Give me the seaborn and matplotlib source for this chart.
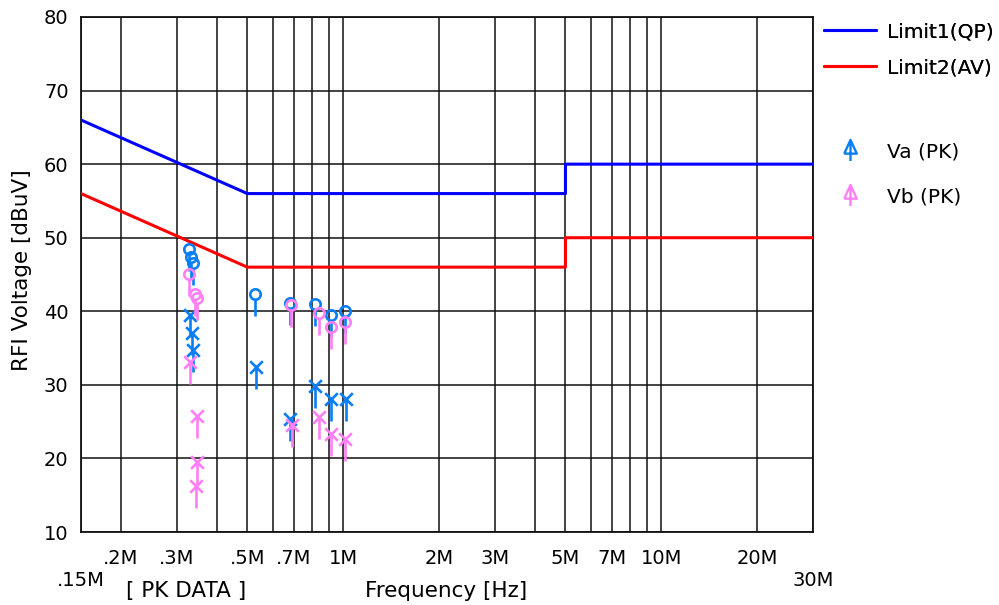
import numpy as np
import matplotlib
matplotlib.use("Agg")
import matplotlib.pyplot as plt
from matplotlib.path import Path
from matplotlib.lines import Line2D
import seaborn as sns

# ---------------- data ----------------
limit_freq = [0.15, 0.5, 5.0, 5.0, 30.0]
limit_qp = [66, 56, 56, 60, 60]
limit_av = [56, 46, 46, 50, 50]

va_o_freq = [0.328, 0.333, 0.338, 0.529, 0.681, 0.816, 0.914, 1.016]
va_o_val = [48.4, 47.4, 46.5, 42.4, 41.1, 41.0, 39.5, 40.1]
va_x_freq = [0.330, 0.335, 0.338, 0.532, 0.681, 0.818, 0.914, 1.020]
va_x_val = [39.5, 37.0, 34.7, 32.4, 25.3, 29.9, 28.1, 28.1]

vb_o_freq = [0.328, 0.343, 0.347, 0.685, 0.840, 0.918, 1.016]
vb_o_val = [45.1, 42.3, 41.8, 40.9, 39.7, 37.9, 38.5]
vb_x_freq = [0.330, 0.348, 0.347, 0.346, 0.690, 0.840, 0.918, 1.016]
vb_x_val = [33.1, 25.8, 19.5, 16.3, 24.6, 25.6, 23.3, 22.7]

x_ticks = [0.15, 0.2, 0.3, 0.4, 0.5, 0.6, 0.7, 0.8, 0.9, 1, 2, 3, 4, 5, 6, 7, 8, 9, 10, 20, 30]
x_labels = ['\n.15M', '.2M', '.3M', '', '.5M', '', '.7M', '', '', '1M', '2M', '3M', '',
            '5M', '', '7M', '', '', '10M', '20M', '\n30M']
y_ticks = [10, 20, 30, 40, 50, 60, 70, 80]

legend_labels = ['Limit1(QP)', 'Limit2(AV)', 'Va (PK)', 'Vb (PK)']

# ---------------- style ----------------
sns.set_style("white")
plt.rcParams['font.family'] = ['DejaVu Sans']
plt.rcParams['text.color'] = 'black'
plt.rcParams['xtick.color'] = 'black'
plt.rcParams['ytick.color'] = 'black'
FS = 14
FS_LAB = 15.5
FS_LEG = 14.5

C_QP = '#0000ff'
C_AV = '#ff0000'
C_VA = '#0a7ef5'
C_VB = '#ff80f4'

# composite markers (marker with downward stem)
L = 22.0
r = 5.2
h = 6.3
circle_stem = Path.make_compound_path(
    Path.circle((0, 0), r),
    Path([[0, -r], [0, -L]], [Path.MOVETO, Path.LINETO]))
x_stem = Path([[-h, -h], [h, h], [-h, h], [h, -h], [0, 0], [0, -L]],
              [Path.MOVETO, Path.LINETO, Path.MOVETO, Path.LINETO, Path.MOVETO, Path.LINETO])
arrow = Path([[-6, -3], [0, 10], [6, -3], [-6, -3], [0, 10], [0, -10]],
             [Path.MOVETO, Path.LINETO, Path.LINETO, Path.LINETO, Path.MOVETO, Path.LINETO])
MS = 2 * L * 0.72
MS_ARROW = 21 * 0.72

fig = plt.figure(figsize=(9.99, 6.05), dpi=100)
ax = fig.add_axes([81 / 999, 1 - 532 / 605, 732 / 999, 515 / 605])

ax.set_xscale('log')
ax.set_xlim(0.15, 30)
ax.set_ylim(10, 80)

sns.lineplot(x=limit_freq, y=limit_qp, sort=False, estimator=None, color=C_QP, lw=2.2, ax=ax, zorder=3)
sns.lineplot(x=limit_freq, y=limit_av, sort=False, estimator=None, color=C_AV, lw=2.2, ax=ax, zorder=3)

for fx, vy, mk, col in [(va_o_freq, va_o_val, circle_stem, C_VA),
                        (va_x_freq, va_x_val, x_stem, C_VA),
                        (vb_o_freq, vb_o_val, circle_stem, C_VB),
                        (vb_x_freq, vb_x_val, x_stem, C_VB)]:
    ax.plot(fx, vy, linestyle='none', marker=mk, markersize=MS, markerfacecolor='none',
            markeredgecolor=col, markeredgewidth=1.9, zorder=4)

ax.set_xticks(x_ticks, x_labels)
ax.minorticks_off()
ax.set_yticks(y_ticks)
ax.tick_params(axis='both', length=0, labelsize=FS, labelcolor='black')
ax.tick_params(axis='x', pad=12)
ax.tick_params(axis='y', pad=9)
ax.grid(True, color='#111111', lw=1.1)
for s in ax.spines.values():
    s.set_visible(True)
    s.set_color('#111111')
    s.set_linewidth(1.3)
ax.set_xlabel('')
ax.set_ylabel('')

fig.text(22 / 999, 1 - 270 / 605, 'RFI Voltage [dBuV]', rotation=90, ha='center', va='center', fontsize=FS_LAB)
fig.text(186 / 999, 1 - 591 / 605, '[ PK DATA ]', ha='center', va='center', fontsize=FS_LAB)
fig.text(365 / 999, 1 - 591 / 605, 'Frequency [Hz]', ha='left', va='center', fontsize=FS_LAB)

h1 = [Line2D([], [], color=C_QP, lw=2.2), Line2D([], [], color=C_AV, lw=2.2)]
leg1 = fig.legend(h1, legend_labels[:2], loc='upper left', bbox_to_anchor=(824 / 999, 1 - 22 / 605),
                  frameon=False, fontsize=FS_LEG, handlelength=2.6, handletextpad=0.55,
                  labelspacing=0.85, borderpad=0, borderaxespad=0)
fig.add_artist(leg1)
h2 = [Line2D([], [], linestyle='none', marker=arrow, markersize=MS_ARROW, markerfacecolor='none',
             markeredgecolor=C_VA, markeredgewidth=1.7),
      Line2D([], [], linestyle='none', marker=arrow, markersize=MS_ARROW, markerfacecolor='none',
             markeredgecolor=C_VB, markeredgewidth=1.7)]
leg2 = fig.legend(h2, legend_labels[2:], loc='upper left', bbox_to_anchor=(824 / 999, 1 - 142 / 605),
                  frameon=False, fontsize=FS_LEG, handlelength=2.6, handletextpad=0.55,
                  labelspacing=1.3, borderpad=0, borderaxespad=0, numpoints=1)

fig.savefig('out.png', dpi=100)
